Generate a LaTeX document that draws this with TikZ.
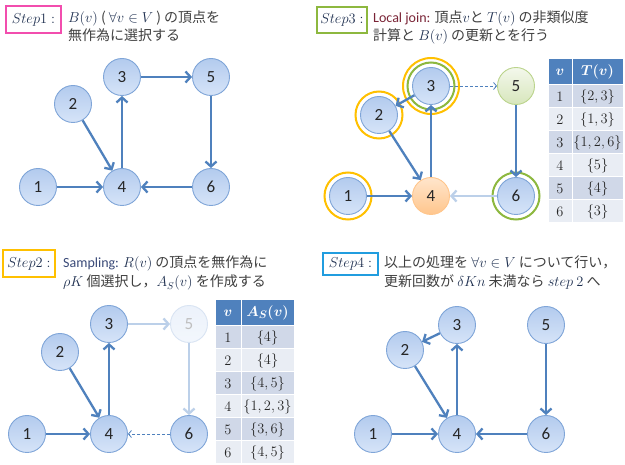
\documentclass[tikz,border=0pt]{standalone}
\usepackage{fontspec}
\usepackage{amsmath}
\newfontfamily\jpfont{Noto Sans CJK JP}
\newfontfamily\calfont{Carlito}
\usetikzlibrary{arrows.meta}
\definecolor{edgeblue}{HTML}{4F81BD}
\definecolor{fadeedge}{HTML}{BCD0E9}
\definecolor{vborder}{HTML}{7FA5D8}
\definecolor{vtop}{HTML}{B3CBEE}
\definecolor{vbot}{HTML}{D6E4F8}
\definecolor{jpgray}{HTML}{404040}
\definecolor{mathc}{HTML}{1F3050}
\definecolor{ljc}{HTML}{7A2436}
\definecolor{smc}{HTML}{3A4A78}
\definecolor{ringor}{HTML}{FFC000}
\definecolor{ringgr}{HTML}{8DB83F}
\definecolor{hdr}{HTML}{4F81BD}
\definecolor{rowA}{HTML}{D0D8E8}
\definecolor{rowB}{HTML}{E9EDF4}
\newcommand\mth[1]{\textcolor{mathc}{$#1$}}
\tikzset{
  vtx/.style={circle, minimum size=37pt, inner sep=0pt, draw=vborder, line width=0.9pt,
    top color=vtop, bottom color=vbot, text=black!85, font=\calfont\fontsize{17}{17}\selectfont},
  vfade/.style={vtx, draw=vborder!30, top color=vtop!25, bottom color=vbot!30, text=black!25},
  vorange/.style={vtx, draw=orange!45, top color=orange!20, bottom color=orange!45!white},
  vgreen/.style={vtx, draw=ringgr!60, top color=ringgr!10, bottom color=ringgr!35},
  ring/.style={circle, draw=#1, line width=2pt, inner sep=0pt, fill=none},
  ed/.style={draw=edgeblue, line width=2.3pt, -{Straight Barb[length=5pt,width=11pt]}},
  edfade/.style={draw=fadeedge, line width=2.3pt, -{Straight Barb[length=5pt,width=11pt]}},
  eddash/.style={draw=edgeblue, line width=0.8pt, dash pattern=on 3pt off 2pt, -{Straight Barb[length=3pt,width=7pt]}},
  txt/.style={font=\jpfont\fontsize{14}{17}\selectfont, text=jpgray, inner sep=0pt, anchor=base west},
  stepbox/.style={draw=#1, line width=1.5pt, fill=white, inner sep=0pt, text=mathc, font=\fontsize{14}{17}\selectfont},
  cell/.style={rectangle, draw=white, line width=1pt, inner sep=0pt, minimum height=23pt, text=black!85, font=\fontsize{15}{17}\selectfont},
  hcell/.style={cell, fill=hdr, text=white, minimum height=26pt, font=\fontsize{15}{17}\selectfont\boldmath}
}
\begin{document}
\begin{tikzpicture}[x=1pt,y=-1pt]
\fill[white] (0,0) rectangle (625,465);
\useasboundingbox (0,0) rectangle (625,465);

% ---------------- Step 1 ----------------
\node[stepbox=magenta!70, minimum width=55pt, minimum height=27pt] (b1) at (33.5,19.5) {$Step1:$};
\node[txt] (s1a) at (68,23) {\mth{B(v)} ( \mth{\forall v\in V} ) の頂点を};
\node[txt] (s1b) at (68,41) {無作為に選択する};
\node[vtx] (a1) at (38,187) {1};
\node[vtx] (a2) at (73,104) {2};
\node[vtx] (a3) at (122,77) {3};
\node[vtx] (a4) at (122,187) {4};
\node[vtx] (a5) at (211,77) {5};
\node[vtx] (a6) at (211,187) {6};
\draw[ed] (a1) -- (a4);
\draw[ed] (a2) -- (a4);
\draw[ed] (a4) -- (a3);
\draw[ed] (a3) -- (a5);
\draw[ed] (a5) -- (a6);
\draw[ed] (a6) -- (a4);

% ---------------- Step 3 ----------------
\node[stepbox=ringgr, minimum width=50pt, minimum height=26pt] (b3) at (342,20) {$Step3:$};
\node[txt] (s3a) at (373,23) {\textcolor{ljc}{\calfont Local join:} 頂点\mth{v}と \mth{T(v)} の非類似度};
\node[txt] (s3b) at (373,41) {計算と \mth{B(v)} の更新とを行う};
\node[ring=ringor, minimum size=47pt] (r1) at (348,196) {};
\node[ring=ringor, minimum size=47pt] (r2) at (379,115) {};
\node[ring=ringor, minimum size=56pt] (r3o) at (431,86) {};
\node[ring=ringgr, minimum size=47pt] (r3g) at (431,86) {};
\node[ring=ringgr, minimum size=47pt] (r6) at (516,196) {};
\node[vtx] (c1) at (348,196) {1};
\node[vtx] (c2) at (379,115) {2};
\node[vtx] (c3) at (431,86) {3};
\node[vorange] (c4) at (431,196) {4};
\node[vgreen] (c5) at (516,86) {5};
\node[vtx] (c6) at (516,196) {6};
\draw[ed] (c1) -- (c4);
\draw[ed] (c2) -- (c4);
\draw[ed] (c4) -- (c3);
\draw[ed] (c3) -- (c2);
\draw[ed] (c5) -- (c6);
\draw[edfade] (c6) -- (c4);
\draw[eddash] (c3) -- (c5);
% table T(v)
\node[hcell, minimum width=24pt] (th1) at (560,72) {$v$};
\node[hcell, minimum width=51pt] (th2) at (597.5,72) {$T(v)$};
\foreach \v/\s [count=\k] in {1/{2,3},2/{1,3},3/{1,2,6},4/{5},5/{4},6/{3}} {
  \pgfmathsetmacro\yc{85+23*(\k-1)+11.5}
  \ifodd\k \def\rc{rowA}\else\def\rc{rowB}\fi
  \node[cell, fill=\rc, minimum width=24pt] (ta\k) at (560,\yc) {$\v$};
  \node[cell, fill=\rc, minimum width=51pt] (tb\k) at (597.5,\yc) {$\{\s\}$};
}

% ---------------- Step 2 ----------------
\node[stepbox=ringor, minimum width=52pt, minimum height=27pt] (b2) at (29,263.5) {$Step2:$};
\node[txt] (s2a) at (63,268) {\textcolor{smc}{\calfont Sampling:} \mth{R(v)} の頂点を無作為に};
\node[txt] (s2b) at (63,287) {\mth{\rho K} 個選択し，\mth{A_S(v)} を作成する};
\node[vtx] (e1) at (27,434) {1};
\node[vtx] (e2) at (60,352) {2};
\node[vtx] (e3) at (109,324) {3};
\node[vtx] (e4) at (109,434) {4};
\node[vfade] (e5) at (189,324) {5};
\node[vtx] (e6) at (189,434) {6};
\draw[ed] (e1) -- (e4);
\draw[ed] (e2) -- (e4);
\draw[ed] (e4) -- (e3);
\draw[edfade] (e3) -- (e5);
\draw[edfade] (e5) -- (e6);
\draw[eddash] (e6) -- (e4);
% table A_S(v)
\node[hcell, minimum width=26pt] (uh1) at (228,313) {$v$};
\node[hcell, minimum width=53pt] (uh2) at (267.5,313) {$A_S(v)$};
\foreach \v/\s [count=\k] in {1/{4},2/{4},3/{4,5},4/{1,2,3},5/{3,6},6/{4,5}} {
  \pgfmathsetmacro\yc{326+23*(\k-1)+11.5}
  \ifodd\k \def\rc{rowA}\else\def\rc{rowB}\fi
  \node[cell, fill=\rc, minimum width=26pt] (ua\k) at (228,\yc) {$\v$};
  \node[cell, fill=\rc, minimum width=53pt] (ub\k) at (267.5,\yc) {$\{\s\}$};
}

% ---------------- Step 4 ----------------
\node[stepbox=cyan!80!blue!90, minimum width=55pt, minimum height=22pt] (b4) at (350.5,264) {$Step4:$};
\node[txt] (s4a) at (384,268) {以上の処理を \mth{\forall v\in V} について行い，};
\node[txt] (s4b) at (384,287) {更新回数が \mth{\delta Kn} 未満なら \mth{step\ 2} へ};
\node[vtx] (d1) at (373,434) {1};
\node[vtx] (d2) at (405,350) {2};
\node[vtx] (d3) at (457,325) {3};
\node[vtx] (d4) at (457,434) {4};
\node[vtx] (d5) at (546,325) {5};
\node[vtx] (d6) at (546,434) {6};
\draw[ed] (d1) -- (d4);
\draw[ed] (d2) -- (d4);
\draw[ed] (d4) -- (d3);
\draw[ed] (d3) -- (d2);
\draw[ed] (d5) -- (d6);
\draw[ed] (d6) -- (d4);
\end{tikzpicture}
\end{document}
